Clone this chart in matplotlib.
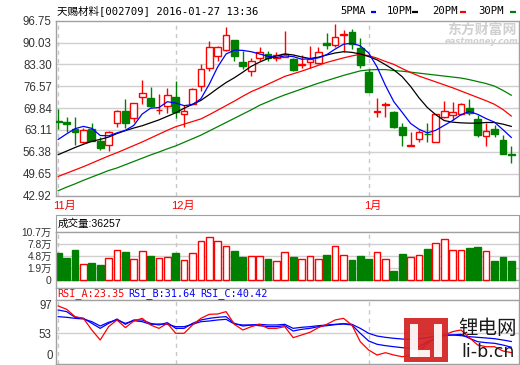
import matplotlib
matplotlib.use('Agg')
import matplotlib.pyplot as plt
from matplotlib.patches import Rectangle
import numpy as np

plt.rcParams['font.family'] = ['Liberation Sans', 'Noto Sans CJK SC']
MONO = ['DejaVu Sans Mono', 'Noto Sans CJK SC']

# ---------------- data ----------------
title = "天赐材料[002709] 2016-01-27 13:36"
open_ = [65.8, 65.5, 63.3, 59.5, 63.4, 59.6, 58.6, 65.2, 69.0, 66.7, 73.4, 72.9, 69.1, 70.5,
         73.4, 68.0, 71.1, 76.5, 82.3, 85.9, 87.6, 90.75, 84.1, 81.2, 85.4, 86.4, 85.4, 85.6,
         84.85, 83.1, 84.1, 83.8, 90.0, 89.2, 92.4, 93.2, 88.2, 81.0, 68.6, 70.7, 68.6, 63.9,
         58.2, 60.2, 62.0, 59.3, 67.2, 67.75, 68.0, 70.0, 66.4, 61.3, 63.3, 59.9, 55.85]
high = [69.5, 67.2, 67.0, 63.8, 65.2, 61.0, 62.7, 69.3, 72.7, 71.5, 78.6, 76.2, 74.3, 76.0,
        78.1, 70.9, 75.9, 83.5, 90.5, 89.0, 94.7, 90.8, 87.4, 85.4, 88.5, 87.4, 87.1, 93.6,
        85.4, 86.2, 89.0, 88.5, 93.1, 95.7, 94.0, 94.2, 91.4, 81.75, 72.9, 71.7, 68.8, 65.3,
        62.6, 63.1, 65.2, 68.0, 71.9, 71.6, 71.5, 72.6, 67.75, 65.2, 64.7, 61.4, 58.1]
low = [63.3, 62.5, 58.6, 59.0, 59.6, 56.9, 56.6, 64.1, 63.8, 65.7, 71.1, 70.3, 68.0, 68.3,
       66.7, 64.1, 71.0, 75.0, 81.2, 84.3, 87.5, 84.3, 82.0, 79.7, 84.3, 84.3, 84.3, 85.5,
       81.2, 82.3, 82.3, 83.5, 87.95, 88.5, 87.2, 87.95, 82.3, 74.8, 67.2, 67.0, 63.7, 58.1,
       58.1, 59.5, 59.5, 59.3, 66.7, 66.2, 67.8, 67.75, 61.0, 58.1, 60.9, 55.6, 52.9]
close = [65.6, 65.05, 62.5, 63.1, 59.8, 57.4, 62.5, 69.0, 65.2, 71.4, 74.5, 70.6, 69.4, 73.9,
         68.5, 69.0, 75.8, 81.9, 88.5, 88.5, 92.4, 85.9, 82.8, 84.3, 87.2, 85.4, 86.1, 86.6,
         81.7, 83.5, 85.1, 87.2, 89.2, 91.6, 92.7, 89.5, 83.1, 74.8, 69.0, 71.0, 63.9, 61.4,
         58.6, 62.4, 61.8, 68.0, 68.8, 68.6, 71.2, 68.3, 61.4, 62.9, 61.8, 55.85, 55.35]
ma5 = [60.2, 61.9, 63.5, 64.2, 63.6, 61.4, 61.3, 62.2, 63.0, 64.5, 68.0, 69.8, 70.0, 71.8,
       71.4, 70.6, 70.9, 72.7, 77.2, 82.5, 86.5, 87.7, 87.6, 87.2, 86.5, 85.8, 85.4, 85.9,
       85.7, 84.9, 85.0, 85.3, 86.3, 88.0, 89.5, 89.8, 89.0, 86.8, 82.5, 76.8, 71.8, 68.5,
       65.1, 63.3, 62.2, 63.0, 64.5, 66.0, 67.8, 68.8, 67.9, 66.6, 65.5, 63.2, 60.8]
ma10 = [55.5, 56.6, 57.7, 58.7, 59.6, 60.2, 60.9, 62.0, 62.9, 63.7, 64.4, 65.3, 66.2, 67.3,
        68.4, 69.8, 71.0, 72.2, 74.0, 75.9, 77.7, 79.2, 80.9, 82.7, 84.0, 85.1, 85.9, 86.5,
        86.2, 85.6, 85.1, 85.5, 86.2, 86.8, 87.2, 87.0, 86.5, 85.7, 84.7, 83.2, 81.6, 79.5,
        76.5, 73.0, 70.0, 67.8, 66.0, 65.5, 65.3, 65.2, 65.2, 65.4, 65.4, 64.9, 64.2]
ma20 = [48.8, 49.8, 50.8, 51.8, 52.9, 54.0, 55.1, 56.1, 57.2, 58.3, 59.4, 60.6, 61.8, 63.0,
        64.1, 64.9, 65.7, 66.5, 67.8, 69.2, 70.6, 72.0, 73.5, 74.9, 76.0, 77.2, 78.4, 79.6,
        80.4, 81.2, 82.1, 83.0, 83.9, 84.6, 85.3, 85.9, 86.4, 86.0, 85.2, 84.2, 83.3, 82.0,
        80.8, 79.7, 78.8, 77.9, 77.0, 76.1, 75.1, 74.1, 73.1, 72.1, 71.0, 69.4, 67.4]
ma30 = [44.4, 45.5, 46.5, 47.6, 48.6, 49.6, 50.6, 51.4, 52.4, 53.4, 54.4, 55.4, 56.3, 57.3,
        58.2, 59.3, 60.4, 61.5, 62.8, 64.1, 65.4, 66.7, 68.0, 69.3, 70.7, 71.8, 72.9, 73.9,
        74.8, 75.7, 76.6, 77.5, 78.3, 79.1, 79.9, 80.6, 81.3, 81.6, 81.7, 81.7, 81.4, 81.2,
        80.9, 80.6, 80.3, 80.0, 79.7, 79.4, 79.1, 78.6, 78.0, 77.4, 76.6, 75.3, 73.8]
# volume in 万 (10k shares)
volume = [5.66, 4.46, 6.32, 2.92, 3.25, 2.71, 4.35, 6.32, 5.88, 4.13, 6.10, 4.90, 4.35, 4.57,
          5.66, 3.91, 5.66, 8.51, 9.50, 8.51, 7.31, 6.21, 4.68, 4.90, 4.90, 4.13, 3.69, 5.77,
          4.68, 4.02, 4.90, 4.13, 5.12, 7.31, 5.12, 3.91, 4.90, 4.13, 5.77, 4.02, 1.28, 5.34,
          4.57, 5.12, 6.65, 7.97, 9.17, 6.32, 6.32, 6.87, 7.09, 6.10, 3.69, 4.68, 3.63]
rsi_a = [95.0, 89.9, 78.6, 76.0, 58.1, 42.7, 63.2, 73.5, 61.7, 71.9, 76.0, 65.8, 60.6, 68.3,
         53.0, 53.0, 65.8, 76.0, 82.2, 82.7, 86.3, 66.8, 58.1, 63.2, 66.8, 60.6, 60.6, 63.2,
         46.3, 50.4, 54.5, 61.7, 66.8, 73.5, 76.0, 65.8, 40.1, 27.3, 19.6, 23.2, 19.6, 17.0,
         18.6, 24.7, 37.6, 45.3, 50.4, 55.5, 58.1, 46.3, 35.0, 32.4, 32.4, 25.8, 23.35]
rsi_b = [88.8, 86.3, 77.6, 76.0, 68.3, 60.6, 68.3, 75.0, 66.8, 73.5, 73.5, 68.3, 65.8, 69.4,
         60.6, 60.6, 68.3, 73.5, 76.0, 77.6, 78.6, 68.3, 64.2, 65.8, 64.7, 63.2, 63.2, 64.7,
         56.5, 59.1, 60.6, 63.2, 64.7, 66.3, 67.3, 65.8, 53.0, 41.2, 36.1, 34.0, 32.4, 30.9,
         29.9, 32.4, 40.1, 45.3, 49.4, 50.4, 51.4, 45.3, 40.1, 38.6, 37.6, 35.0, 31.64]
rsi_c = [78.6, 77.6, 76.0, 75.0, 70.9, 64.2, 69.9, 73.5, 68.3, 72.4, 70.9, 66.8, 67.3, 66.8,
         63.2, 63.2, 66.8, 70.9, 71.9, 73.5, 74.5, 67.3, 65.8, 65.8, 66.8, 65.8, 65.8, 66.8,
         60.6, 62.2, 63.2, 64.7, 65.8, 66.8, 67.8, 66.8, 60.6, 53.0, 48.8, 46.8, 45.3, 44.2,
         43.7, 44.7, 46.3, 48.8, 50.4, 50.4, 49.4, 47.8, 46.8, 45.8, 44.7, 42.7, 40.42]
price_ticks = [96.75, 90.03, 83.30, 76.57, 69.84, 63.11, 56.38, 49.65, 42.92]
vol_ticks = [10.7, 7.77, 4.84, 1.91]
vol_tick_labels = ["10.7万", "7.8万", "4.8万", "1.9万"]
vol_axis_min = -1.02          # value at the volume baseline (labelled "0")
rsi_ticks = [53, 97]
month_idx = [0, 14, 37]
month_labels = ["11月", "12月", "1月"]
last_volume = "36257"
legend_names = ["5PMA", "10PM", "20PM", "30PM"]

# ---------------- layout ----------------
W, H = 520, 365
RED, GREEN, BLUE = '#FF0000', '#008000', '#0000FF'
FRAME, GRID = '#A0A0A0', '#D0D0D0'

fig = plt.figure(figsize=(5.2, 3.65), dpi=100)

def rect(l, t, r, b):
    return [l / W, 1 - b / H, (r - l) / W, (b - t) / H]

L, R = 56, 518.5
n = len(close)
idx = np.arange(n)
XLIM = (-0.27, 54.86)

def style(ax, size=8.3):
    for s in ax.spines.values():
        s.set_color(FRAME)
        s.set_linewidth(1)
    ax.set_xlim(*XLIM)
    ax.set_xticks([])
    ax.tick_params(axis='y', length=0, pad=3, labelsize=size, labelcolor='#333333')

up = [c >= o for o, c in zip(open_, close)]
colors = [RED if u else GREEN for u in up]

# main price panel
ax = fig.add_axes(rect(L, 20.7, R, 195.5))
style(ax)
ax.set_ylim(price_ticks[-1], price_ticks[0])
ax.set_yticks(price_ticks)
ax.set_yticklabels([f"{v:.2f}" for v in price_ticks])
for v in price_ticks[1:-1]:
    ax.axhline(v, color=GRID, lw=1, zorder=0)
for m in month_idx:
    ax.axvline(m, color='#C8C8C8', lw=1, ls=(0, (3, 3)), zorder=0)
bw = 0.8
for i in range(n):
    o, h, l, c = open_[i], high[i], low[i], close[i]
    col = colors[i]
    ax.vlines(i, l, h, color=col, lw=1, zorder=2)
    bottom = min(o, c)
    ht = max(abs(c - o), 0.12)
    ax.add_patch(Rectangle((i - bw / 2, bottom), bw, ht,
                           facecolor='white' if up[i] else GREEN,
                           edgecolor=col, lw=1, zorder=3))
ax.plot(idx, ma30, color=GREEN, lw=0.9, zorder=4)
ax.plot(idx, ma20, color=RED, lw=0.9, zorder=4)
ax.plot(idx, ma10, color='black', lw=0.9, zorder=4)
ax.plot(idx, ma5, color=BLUE, lw=0.9, zorder=4)

# volume header
axvh = fig.add_axes(rect(L, 215, R, 232.3))
for s in axvh.spines.values():
    s.set_color(FRAME)
axvh.set_xticks([]); axvh.set_yticks([])
axvh.text(0.003, 0.5, "成交量:" + last_volume, transform=axvh.transAxes,
          ha='left', va='center', fontsize=7.6, color='black')

# volume panel: top 232.3px = 10.7, baseline 280px = vol_axis_min, bottom 287.7px
px_per_unit = (280 - 232.3) / (10.7 - vol_axis_min)
vbot = vol_axis_min - (287.7 - 280) / px_per_unit
axv = fig.add_axes(rect(L, 232.3, R, 287.7))
style(axv, size=7.4)
axv.set_ylim(vbot, 10.7)
axv.set_yticks(vol_ticks + [vol_axis_min])
axv.set_yticklabels(vol_tick_labels + ["0"])
for v in vol_ticks[1:]:
    axv.axhline(v, color=GRID, lw=1, zorder=0)
axv.axhline(vol_axis_min, color=FRAME, lw=1, zorder=1)
frac0 = (vol_axis_min - vbot) / (10.7 - vbot)
for m in month_idx:
    axv.axvline(m, color='#C8C8C8', lw=1, ls=(0, (3, 3)), ymin=frac0, zorder=0)
vol_arr = np.array(volume)
axv.bar(idx, vol_arr - vol_axis_min, width=0.8, bottom=vol_axis_min,
        color=['white' if u else GREEN for u in up], edgecolor=colors, lw=1, zorder=2)

# RSI header
axrh = fig.add_axes(rect(L, 287.7, R, 300))
for s in axrh.spines.values():
    s.set_color(FRAME)
axrh.set_xticks([]); axrh.set_yticks([])
hdr = [(f"RSI_A:{rsi_a[-1]:.2f}", RED, 57), (f"RSI_B:{rsi_b[-1]:.2f}", BLUE, 128),
       (f"RSI_C:{rsi_c[-1]:.2f}", BLUE, 200)]

# RSI panel
axr = fig.add_axes(rect(L, 300, R, 364))
style(axr)
axr.set_ylim(5.8, 104.2)
axr.set_yticks(rsi_ticks)
axr.set_yticklabels([str(v) for v in rsi_ticks])
axr.axhline(53, color=GRID, lw=1, zorder=0)
for m in month_idx:
    axr.axvline(m, color='#C8C8C8', lw=1, ls=(0, (3, 3)), zorder=0)
axr.plot(idx, rsi_c, color=BLUE, lw=0.9, zorder=3)
axr.plot(idx, rsi_b, color=BLUE, lw=0.9, zorder=3)
axr.plot(idx, rsi_a, color=RED, lw=0.9, zorder=4)
axr.text(-3 / 462.5, 0.03, "0", transform=axr.transAxes, ha='right', va='bottom',
         fontsize=8.3, color='#333333')

# overlay for texts in pixel coordinates
ov = fig.add_axes([0, 0, 1, 1], zorder=10)
ov.set_xlim(0, W); ov.set_ylim(H, 0); ov.axis('off')
ov.patch.set_alpha(0)
ov.text(57, 10.5, title, family=MONO, fontsize=7.6, ha='left', va='center', color='black')
leg_x = [340, 387, 432, 478]
dash_x = [370.5, 412, 460, 510]
for name, x, dx, c in zip(legend_names, leg_x, dash_x, [BLUE, 'black', RED, GREEN]):
    ov.text(x, 10.5, name, family=MONO, fontsize=7.6, ha='left', va='center', color='black')
    ov.plot([dx, dx + 5.5], [11.6, 11.6], color=c, lw=1.6, solid_capstyle='butt')
for t, c, x in hdr:
    ov.text(x, 293.8, t, family=MONO, fontsize=7.3, ha='left', va='center', color=c)
for m, lab in zip(month_idx, month_labels):
    xp = L + (m - XLIM[0]) / (XLIM[1] - XLIM[0]) * (R - L)
    ov.text(xp - 5, 206, lab, fontsize=8, color=RED, ha='left', va='center')

# eastmoney watermark
ov.text(447, 29.5, "东方财富网", fontsize=10, color='#D0D0D0', weight='bold',
        ha='left', va='center', family=['Noto Sans CJK SC'])
ov.text(445, 41.5, "eastmoney.com", fontsize=6, color='#D0D0D0', weight='bold',
        style='italic', ha='left', va='center', family=['DejaVu Sans'])

# li-b.cn watermark
ov.add_patch(Rectangle((404, 318), 44, 44, facecolor='#D42222', edgecolor='none', alpha=0.93))
ov.add_patch(Rectangle((410, 324), 7.5, 33, facecolor='white', edgecolor='none', alpha=0.93))
ov.add_patch(Rectangle((410, 350), 20, 7, facecolor='white', edgecolor='none', alpha=0.93))
ov.add_patch(Rectangle((433.5, 324), 8.5, 33, facecolor='white', edgecolor='none', alpha=0.93))
ov.text(488, 329, "锂电网", fontsize=14, color='#1a1a1a', ha='center', va='center',
        family=['Noto Sans CJK SC'])
ov.text(488, 352, "li-b.cn", fontsize=12.5, color='#1a1a1a', ha='center', va='center',
        family=['DejaVu Sans'])

fig.savefig('out.png', dpi=100)
